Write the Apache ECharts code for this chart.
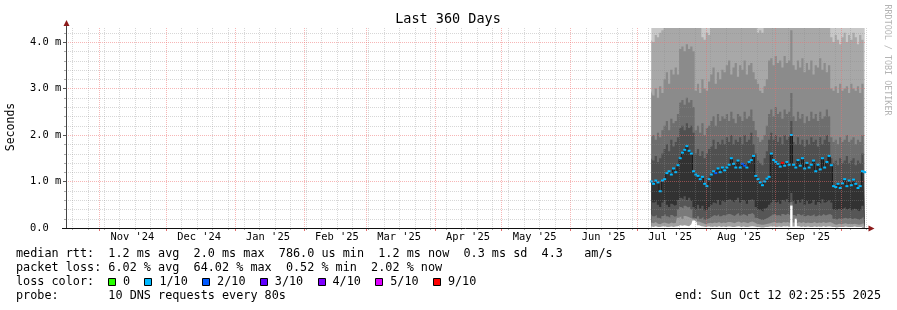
<!DOCTYPE html>
<html><head><meta charset="utf-8">
<script src="https://cdn.jsdelivr.net/npm/echarts@6/dist/echarts.min.js"></script>
<style>html,body{margin:0;padding:0;background:#fff}#c{width:897px;height:310px}</style>
</head><body><div id="c"></div><script>
// ---- data (milliseconds), one sample per day starting 2025-07-07 ----
const firstSample = Date.UTC(2025, 6, 7, 12);
const median = [1.0,0.95,1.02,0.98,0.79,1.02,1.05, 1.18,1.22,1.15,1.28,1.2, 1.35,1.5,1.62,1.68,1.76,1.66,1.6, 1.22,1.15,1.12, 1.05,1.1,0.95,0.9,1.05, 1.15,1.22,1.18,1.28,1.2,1.3,1.24,1.3, 1.36,1.5,1.38,1.3,1.45,1.3,1.38,1.34,1.3,1.42,1.46,1.55, 1.12,1.05,0.98,0.92,1.0,1.06,1.1, 1.6, 1.46,1.42,1.38,1.32,1.4,1.34,1.42,1.36, 2.0, 1.36,1.3,1.46,1.34,1.5,1.28,1.4,1.3, 1.36,1.45,1.22,1.36,1.26,1.5,1.3,1.42,1.55, 1.35, 0.9,0.88,0.95, 0.86,0.96,1.05,0.9,1.02,0.92,1.04,0.95,0.86,0.9,1.22,1.2];
const loss = [1,1,1,1,1,1,1, 1,1,1,1,1, 1,1,1,1,1,1,1, 1,1,1, 1,1,1,1,1, 1,1,2,1,1,1,1,1, 1,1,1,1,1,1,2,2,1,1,1,1, 1,1,1,1,1,1,1, 1, 1,1,1,1,9,1,1,1, 1, 1,1,1,1,1,1,1,1, 1,1,1,1,1,1,1,1,1, 1, 1,1,1, 1,1,1,1,1,1,1,1,1,1,1,1];
// smoke band edges (upper side)
const up1 = [4.05,4.0,4.15,4.1,4.2,4.25, 4.5,4.5,4.5,4.5,4.5,4.5,4.5,4.5,4.5,4.5,4.5,4.5,4.5,4.5,4.5,4.5, 4.35,4.1,4.05,4.2,4.15, 4.5,4.5,4.5,4.5,4.5,4.5,4.5,4.5,4.5,4.5,4.5,4.5,4.5,4.5,4.5,4.5,4.5,4.5,4.5,4.5,4.5, 4.2,4.25,4.2,4.3, 4.5,4.5,4.5,4.5,4.5,4.5,4.5,4.5,4.5,4.5,4.5,4.5,4.5,4.5,4.5,4.5,4.5,4.5,4.5,4.5,4.5,4.5,4.5,4.5,4.5,4.5,4.5,4.5,4.5, 4.1,4.0,4.15,4.05,3.95,4.1,4.2,4.0,4.15,4.05,4.2,4.1,3.95,4.15,4.05,4.2];
const up2 = [2.95,2.85,3.0,2.8,3.05,2.9, 3.2,3.35,3.1,3.4,3.3,3.45,3.3, 3.85,3.9,3.8,3.95,3.85,3.9,3.8, 2.95,3.1,2.9,3.2,3.0,2.95,3.15, 3.3,3.45,3.1,3.35,3.2,3.4, 3.35,3.5,3.6,3.3,3.45,3.55,3.25,3.5,3.4,3.6,3.3,3.5,3.55,3.35, 3.2,3.1,2.95,2.9,3.05,3.2, 3.6,3.65,3.5,3.7,3.55,3.6,3.45,3.7,3.55,3.6, 4.25, 3.5,3.4,3.6,3.45,3.65,3.35,3.55,3.4,3.6,3.3,3.5,3.45,3.65,3.4,3.55,3.35,3.5, 3.0,2.95,3.05,2.9,3.1,2.95,3.0,3.05,2.9,3.1,3.0,2.95,3.05,2.9,3.1,3.0];
const up3 = [1.95,2.0,1.9,2.05,1.95,2.1, 2.2,2.3,2.1,2.35,2.25,2.3,2.45, 2.7,2.75,2.65,2.8,2.7,2.75,2.6, 2.1,2.2,2.05,2.25,2.0,2.15,2.2, 2.3,2.4,2.2,2.45,2.3,2.4, 2.35,2.45,2.3,2.5,2.35,2.25,2.45,2.4,2.3,2.5,2.35,2.4,2.55,2.3,2.1, 1.95,1.85,1.9,2.0,2.2, 2.45,2.55,2.4,2.6,2.45,2.5,2.35,2.55,2.45,2.5, 2.9, 2.4,2.3,2.5,2.35,2.45,2.25,2.4,2.3,2.5,2.35,2.45,2.3,2.5,2.35,2.4,2.55,2.4, 1.95,1.85,1.9,1.8,1.95,1.85,1.9,2.0,1.85,1.9,1.95,1.8,1.9,1.85,2.0,1.9];
const up4 = [1.5,1.45,1.55,1.42,1.5,1.6, 1.7,1.8,1.65,1.9,1.75,1.85,1.95, 2.15,2.2,2.1,2.25,2.15,2.2,2.05, 1.6,1.7,1.55,1.65,1.5,1.6,1.7, 1.75,1.9,1.7,1.85,1.8,1.9, 1.8,1.95,1.85,2.0,1.8,1.9,1.85,1.95,1.8,2.0,1.85,1.9,2.05,1.8,1.6, 1.45,1.4,1.35,1.5,1.65, 1.9,2.05,1.9,2.0,1.85,1.95,1.8,2.0,1.9,1.95, 2.3, 1.85,1.8,1.95,1.8,1.9,1.75,1.9,1.8,1.95,1.85,1.9,1.75,1.95,1.8,1.9,2.0,1.85, 1.5,1.4,1.45,1.35,1.5,1.4,1.45,1.55,1.4,1.45,1.5,1.35,1.45,1.4,1.6,1.5];
// smoke band edges (lower side)
const lo1 = [0.6,0.55,0.58,0.5,0.45,0.55,0.6, 0.5,0.45,0.52,0.48,0.5, 0.6,0.65,0.62,0.68,0.6,0.65,0.58, 0.45,0.4,0.5, 0.42,0.48,0.38,0.4,0.45, 0.5,0.55,0.52,0.6,0.5,0.58,0.55,0.6, 0.62,0.58,0.55,0.6,0.65,0.55,0.6,0.58,0.52,0.6,0.62,0.58, 0.45,0.4,0.38,0.35,0.42,0.45,0.5, 0.55, 0.6,0.55,0.58,0.52,0.6,0.56,0.62,0.55, 0.75, 0.58,0.52,0.6,0.55,0.62,0.5,0.58,0.52, 0.55,0.6,0.5,0.56,0.52,0.62,0.55,0.58,0.6, 0.55, 0.4,0.38,0.42, 0.38,0.42,0.45,0.4,0.44,0.38,0.42,0.4,0.36,0.4,0.48,0.45];
const lo2 = [0.3,0.25,0.28,0.22,0.2,0.26,0.3, 0.25,0.22,0.28,0.24,0.26, 0.4,0.45,0.42,0.48,0.44,0.46,0.4, 0.22,0.2,0.25, 0.2,0.24,0.18,0.2,0.22, 0.25,0.28,0.26,0.3,0.25,0.28,0.27,0.3, 0.3,0.28,0.26,0.3,0.32,0.27,0.3,0.28,0.25,0.3,0.32,0.28, 0.22,0.2,0.18,0.17,0.2,0.22,0.25, 0.28, 0.3,0.27,0.28,0.25,0.3,0.28,0.31,0.27, 0.56, 0.28,0.25,0.3,0.27,0.3,0.25,0.28,0.26, 0.27,0.3,0.25,0.28,0.26,0.3,0.27,0.29,0.3, 0.27, 0.2,0.18,0.21, 0.19,0.21,0.22,0.2,0.22,0.19,0.21,0.2,0.18,0.2,0.24,0.22];
const lo3 = [0.12,0.1,0.13,0.09,0.08,0.11,0.12, 0.1,0.09,0.12,0.1,0.11, 0.22,0.25,0.2,0.26,0.24,0.22,0.2, 0.18,0.2,0.14, 0.12,0.1,0.08,0.1,0.11, 0.1,0.12,0.11,0.13,0.1,0.12,0.11,0.13, 0.13,0.12,0.1,0.13,0.14,0.11,0.13,0.12,0.1,0.13,0.14,0.12, 0.09,0.08,0.07,0.07,0.08,0.09,0.1, 0.12, 0.13,0.11,0.12,0.1,0.13,0.12,0.13,0.11, 0.5, 0.12,0.1,0.13,0.11,0.13,0.1,0.12,0.11, 0.11,0.13,0.1,0.12,0.11,0.13,0.11,0.12,0.13, 0.11, 0.08,0.07,0.09, 0.08,0.09,0.1,0.08,0.09,0.08,0.09,0.08,0.07,0.08,0.1,0.09];
const lo4 = [0.03,0.02,0.04,0.02,0.02,0.03,0.04, 0.02,0.02,0.03,0.02,0.03, 0.04,0.06,0.05,0.06,0.05,0.04,0.08, 0.16,0.12,0.06, 0.04,0.03,0.02,0.03,0.03, 0.02,0.03,0.02,0.04,0.02,0.03,0.02,0.03, 0.03,0.02,0.02,0.03,0.04,0.02,0.03,0.02,0.02,0.03,0.04,0.03, 0.02,0.02,0.01,0.01,0.02,0.02,0.03, 0.03, 0.03,0.02,0.03,0.02,0.04,0.03,0.04,0.02, 0.48, 0.03,0.2,0.04,0.02,0.03,0.02,0.03,0.02, 0.02,0.03,0.02,0.03,0.02,0.04,0.02,0.03,0.03, 0.02, 0.02,0.01,0.02, 0.02,0.02,0.03,0.02,0.02,0.02,0.03,0.02,0.02,0.02,0.03,0.02];

// axis / labels
const monthLabels = ["Nov '24","Dec '24","Jan '25","Feb '25","Mar '25","Apr '25","May '25","Jun '25","Jul '25","Aug '25","Sep '25"];
const yTickValues = [0, 1, 2, 3, 4];
const yTickLabels = ['0.0', '1.0 m', '2.0 m', '3.0 m', '4.0 m'];
const titleText = 'Last 360 Days';
const yAxisTitle = 'Seconds';
const legendRows = [
  'median rtt:  1.2 ms avg  2.0 ms max  786.0 us min  1.2 ms now  0.3 ms sd  4.3   am/s',
  'packet loss: 6.02 % avg  64.02 % max  0.52 % min  2.02 % now',
  'loss color:',
  'probe:       10 DNS requests every 80s'
];
const endText = 'end: Sun Oct 12 02:25:55 2025';
const watermark = 'RRDTOOL / TOBI OETIKER';
const lossLevels = [0, 1, 2, 3, 4, 5, 9];
const lossLabels = ['0', '1/10', '2/10', '3/10', '4/10', '5/10', '9/10'];
const lossColors = ['#26ff00', '#00b8ff', '#0059ff', '#5e00ff', '#7e00ff', '#dd00ff', '#ff0000'];

// ---- build ----
const DAY = 86400000;
const xMin = Date.UTC(2024, 9, 17, 2, 25, 55);
const xMax = Date.UTC(2025, 9, 12, 2, 25, 55);
const yMax = 4.3;
const times = median.map((_, i) => firstSample + i * DAY);

const labelVals = [], labelMap = {};
const vLines = [];
for (let k = 0; k < 12; k++) {
  const t = Date.UTC(2024, 10 + k, 1);
  if (t < xMax) vLines.push([t, 1]);
  if (k < monthLabels.length) { const c = t + 15 * DAY; labelVals.push(c); labelMap[c] = monthLabels[k]; }
}
for (let t = Date.UTC(2024, 9, 20); t < xMax; t += 7 * DAY) {
  if (!vLines.some(v => v[0] === t)) vLines.push([t, 0]);
}
vLines.sort((a, b) => a[1] - b[1]);
const hLines = [];
for (let k = 1; k <= 21; k++) hLines.push([xMin, k / 5, k % 5 === 0 ? 1 : 0]);

const GRID = 'rgba(140,140,140,0.35)';
const MGRID = 'rgba(240,110,110,0.5)';
const FONT = '"DejaVu Sans Mono", monospace';

const bands = [
  [up1, '#a8a8a8'], [up2, '#8b8b8b'], [up3, '#6e6e6e'], [up4, '#505050'],
  [median, '#323232'], [lo1, '#565656'], [lo2, '#7a7a7a'], [lo3, '#a0a0a0'], [lo4, '#ffffff']
];

const series = [];
// outermost smoke band (max ping beyond the top)
series.push({
  type: 'custom', z: 1, silent: true, animation: false,
  data: [[times[0], 0, times[times.length - 1]]],
  renderItem: (p, api) => {
    const cs = p.coordSys;
    const x0 = api.coord([api.value(0), 0])[0], x1 = api.coord([api.value(2), 0])[0];
    return { type: 'rect', shape: { x: x0, y: cs.y, width: x1 - x0, height: cs.height }, style: { fill: '#c8c8c8' } };
  }
});
bands.forEach(([arr, col], i) => {
  series.push({
    type: 'line', step: 'middle', z: 2 + i, silent: true, animation: false,
    symbol: 'none', lineStyle: { width: 0 }, areaStyle: { color: col, opacity: 1 },
    data: arr.map((v, j) => [times[j], v])
  });
});
// median line coloured by loss
series.push({
  type: 'line', step: 'middle', z: 15, silent: true, animation: false,
  symbol: 'rect', symbolSize: [3, 2], showSymbol: true, showAllSymbol: true,
  lineStyle: { color: '#1a1a1a', width: 1 },
  data: median.map((v, j) => ({ value: [times[j], v], itemStyle: { color: lossColors[lossLevels.indexOf(loss[j])], borderWidth: 0 } }))
});
// vertical grid
series.push({
  type: 'custom', z: 20, silent: true, animation: false, encode: { x: 0, y: 1 },
  data: vLines,
  renderItem: (p, api) => {
    const cs = p.coordSys;
    const x = Math.round(api.coord([api.value(0), 0])[0]) + 0.5;
    const major = api.value(1) === 1;
    const b = cs.y + cs.height;
    return { type: 'group', children: [
      { type: 'line', shape: { x1: x, y1: cs.y, x2: x, y2: b }, style: { stroke: major ? MGRID : GRID, lineWidth: 1, lineDash: [1, 1] } },
      { type: 'line', shape: { x1: x, y1: b, x2: x, y2: b + (major ? 3 : 2) }, style: { stroke: major ? '#e07070' : '#aaa', lineWidth: 1 } }
    ] };
  }
});
// horizontal grid
series.push({
  type: 'custom', z: 20, silent: true, animation: false, encode: { x: 0, y: 1 },
  data: hLines,
  renderItem: (p, api) => {
    const cs = p.coordSys;
    const y = Math.round(api.coord([xMin, api.value(1)])[1]) + 0.5;
    const major = api.value(2) === 1;
    return { type: 'group', children: [
      { type: 'line', shape: { x1: cs.x, y1: y, x2: cs.x + cs.width, y2: y }, style: { stroke: major ? MGRID : GRID, lineWidth: 1, lineDash: [1, 1] } },
      { type: 'line', shape: { x1: cs.x - (major ? 3 : 2), y1: y, x2: cs.x, y2: y }, style: { stroke: major ? '#555' : '#aaa', lineWidth: 1 } }
    ] };
  }
});

const graphic = [];
const AX = '#444';
const AR = '#8c1a1a';
graphic.push({ type: 'line', z: 100, shape: { x1: 66.5, y1: 228, x2: 66.5, y2: 25 }, style: { stroke: AX, lineWidth: 1 } });
graphic.push({ type: 'polygon', z: 100, shape: { points: [[63.5, 26], [69.5, 26], [66.5, 20]] }, style: { fill: AR } });
graphic.push({ type: 'line', z: 100, shape: { x1: 62, y1: 228.5, x2: 869, y2: 228.5 }, style: { stroke: '#111', lineWidth: 1 } });
graphic.push({ type: 'polygon', z: 100, shape: { points: [[868.5, 225.5], [868.5, 231.5], [874.5, 228.5]] }, style: { fill: AR } });
graphic.push({ type: 'text', z: 100, x: 448, y: 19.5, style: { text: titleText, font: '13.5px ' + FONT, fill: '#000', align: 'center', verticalAlign: 'middle' } });
graphic.push({ type: 'text', z: 100, x: 11, y: 127, rotation: Math.PI / 2, style: { text: yAxisTitle, font: '11.5px ' + FONT, fill: '#000', align: 'center', verticalAlign: 'middle' } });
graphic.push({ type: 'text', z: 100, x: 887, y: 60, rotation: -Math.PI / 2, style: { text: watermark, font: '8.4px ' + FONT, fill: '#b4b4b4', align: 'center', verticalAlign: 'middle' } });
const rowY = [254.3, 268.3, 282.3, 296.3];
legendRows.forEach((t, i) => graphic.push({ type: 'text', z: 100, x: 16, y: rowY[i], style: { text: t, font: '11.8px ' + FONT, fill: '#000', verticalAlign: 'middle' } }));
let bx = 108;
lossLabels.forEach((lab, i) => {
  const rx = Math.round(bx) + 0.5;
  graphic.push({ type: 'rect', z: 100, shape: { x: rx, y: 278.5, width: 7, height: 7 }, style: { fill: lossColors[i], stroke: '#000', lineWidth: 1 } });
  graphic.push({ type: 'text', z: 100, x: bx + 15, y: rowY[2], style: { text: lab, font: '11.8px ' + FONT, fill: '#000', verticalAlign: 'middle' } });
  bx += 15 + 7.1 * lab.length + 14.3;
});
graphic.push({ type: 'text', z: 100, x: 881, y: rowY[3], style: { text: endText, font: '11.8px ' + FONT, fill: '#000', align: 'right', verticalAlign: 'middle' } });

const chart = echarts.init(document.getElementById('c'), null, { renderer: 'canvas' });
chart.setOption({
  backgroundColor: '#ffffff',
  animation: false,
  grid: { left: 66, right: 31, top: 28, bottom: 82, containLabel: false },
  xAxis: {
    type: 'value', min: xMin, max: xMax,
    axisLine: { show: false }, axisTick: { show: false }, splitLine: { show: false },
    axisLabel: { customValues: labelVals, formatter: v => labelMap[v] || '', fontFamily: FONT, fontSize: 10.4, color: '#000', margin: 4 }
  },
  yAxis: {
    type: 'value', min: 0, max: yMax,
    axisLine: { show: false }, axisTick: { show: false }, splitLine: { show: false },
    axisLabel: { customValues: yTickValues, formatter: v => yTickLabels[yTickValues.indexOf(v)] || '', fontFamily: FONT, fontSize: 10.4, color: '#000', margin: 36, align: 'left' }
  },
  series: series,
  graphic: graphic
});
</script></body></html>
